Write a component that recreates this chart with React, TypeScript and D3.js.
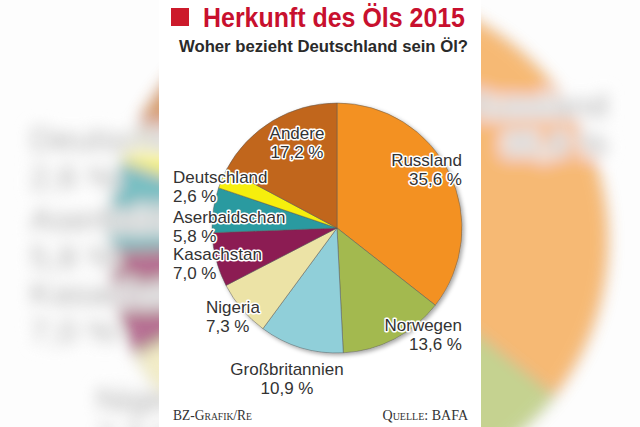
import React from "react";
import * as d3 from "d3";

// ---- data ----
const categories = [
  "Russland",
  "Norwegen",
  "Großbritannien",
  "Nigeria",
  "Kasachstan",
  "Aserbaidschan",
  "Deutschland",
  "Andere",
];
const shares = [35.6, 13.6, 10.9, 7.3, 7.0, 5.8, 2.6, 17.2];
const shareLabels = ["35,6 %", "13,6 %", "10,9 %", "7,3 %", "7,0 %", "5,8 %", "2,6 %", "17,2 %"];
const title = "Herkunft des Öls 2015";
const subtitle = "Woher bezieht Deutschland sein Öl?";
const credit = "BZ-Grafik/Re";
const source = "Quelle: BAFA";

// ---- styles / layout ----
const colors = [
  "#f39121",
  "#a3b94f",
  "#90cfd9",
  "#ece3a6",
  "#8c1b52",
  "#2b9aa0",
  "#f6ee0a",
  "#c1661b",
];
const W = 640;
const H = 427;
const CX = 337;
const CY = 228;
const R = 125;
const PANEL_X0 = 159;
const PANEL_X1 = 481;
const BG_SCALE = 2;
const BG_OX = 316;
const BG_OY = 215;
const labelLayout: { dx: number; dy: number; anchor: string }[] = [
  { dx: 125, dy: -62, anchor: "end" },
  { dx: 125, dy: 103, anchor: "end" },
  { dx: -50, dy: 147, anchor: "middle" },
  { dx: -131, dy: 85, anchor: "start" },
  { dx: -164, dy: 32, anchor: "start" },
  { dx: -164, dy: -5, anchor: "start" },
  { dx: -164, dy: -45, anchor: "start" },
  { dx: -40, dy: -89, anchor: "middle" },
];
const LINE = 19;
const labelFont = "'Liberation Sans', Arial, sans-serif";

// is a label still visible outside the white panel once enlarged in the backdrop?
function visibleInBackdrop(i: number) {
  const L = labelLayout[i];
  const x = BG_OX + BG_SCALE * (CX + L.dx - BG_OX);
  const y = BG_OY + BG_SCALE * (CY + L.dy - BG_OY);
  if (y > H + 10 || y < 0) return false;
  if (L.anchor === "start") return x < PANEL_X0;
  if (L.anchor === "end") return x > PANEL_X1;
  return false;
}

function PieChart({ backdrop }: { backdrop: boolean }) {
  const arcs = d3.pie<number>().sort(null).value((d) => d)(shares);
  const arc = d3.arc<d3.PieArcDatum<number>>().innerRadius(0).outerRadius(R);
  return (
    <g>
      <g transform={`translate(${CX},${CY})`} filter={backdrop ? undefined : "url(#pieShadow)"}>
        {arcs.map((a, i) => (
          <path
            key={categories[i]}
            d={arc(a) || ""}
            fill={colors[i]}
            stroke="#5a5a5a"
            strokeOpacity={0.7}
            strokeWidth={0.7}
          />
        ))}
      </g>
      {categories.map((c, i) => {
        if (backdrop && !visibleInBackdrop(i)) return null;
        const L = labelLayout[i];
        return (
          <text
            key={c}
            x={CX + L.dx}
            y={CY + L.dy}
            textAnchor={L.anchor as any}
            fontFamily={labelFont}
            fontSize={17}
            fill="#333"
            stroke="#fff"
            strokeWidth={3}
            strokeLinejoin="round"
            style={{ paintOrder: "stroke" }}
          >
            <tspan x={CX + L.dx}>{c}</tspan>
            <tspan x={CX + L.dx} dy={LINE}>
              {shareLabels[i]}
            </tspan>
          </text>
        );
      })}
    </g>
  );
}

export default function App() {
  const m = `matrix(${BG_SCALE},0,0,${BG_SCALE},${BG_OX * (1 - BG_SCALE)},${BG_OY * (1 - BG_SCALE)})`;
  return (
    <div style={{ position: "fixed", left: 0, top: 0 }}>
      <svg width={W} height={H} viewBox={`0 0 ${W} ${H}`} style={{ display: "block" }}>
        <defs>
          <filter id="bgBlur" x="-20%" y="-20%" width="140%" height="140%">
            <feGaussianBlur stdDeviation={3.6} />
          </filter>
          <filter id="pieShadow" x="-20%" y="-20%" width="140%" height="140%">
            <feDropShadow dx={2} dy={2} stdDeviation={2} floodColor="#000" floodOpacity={0.35} />
          </filter>
        </defs>
        <rect x={0} y={0} width={W} height={H} fill="#fdfdfd" />
        {/* blurred, enlarged backdrop */}
        <g opacity={0.62} aria-hidden="true">
          <g transform={m} filter="url(#bgBlur)">
            <PieChart backdrop={true} />
          </g>
        </g>
        {/* white panel */}
        <rect x={PANEL_X0} y={0} width={PANEL_X1 - PANEL_X0} height={H} fill="#fff" />
        <PieChart backdrop={false} />
        {/* title */}
        <rect x={171} y={8} width={18} height={18} fill="#cc1a2b" />
        <text
          x={203}
          y={27}
          fontFamily="'Liberation Sans Narrow', 'Liberation Sans', Arial, sans-serif"
          fontWeight="bold"
          fontSize={27}
          fill="#c8102e"
          textLength={262}
          lengthAdjust="spacingAndGlyphs"
        >
          {title}
        </text>
        <text
          x={179}
          y={52}
          fontFamily="'Liberation Sans', Arial, sans-serif"
          fontWeight="bold"
          fontSize={16}
          fill="#2a2a2a"
          textLength={289}
          lengthAdjust="spacingAndGlyphs"
        >
          {subtitle}
        </text>
        {/* footer */}
        <text
          x={173}
          y={420}
          fontFamily="'Liberation Serif', 'DejaVu Serif', serif"
          fontSize={14}
          fill="#333"
          textLength={79}
          lengthAdjust="spacingAndGlyphs"
          style={{ fontVariant: "small-caps" }}
        >
          {credit}
        </text>
        <text
          x={468}
          y={420}
          textAnchor="end"
          fontFamily="'Liberation Serif', 'DejaVu Serif', serif"
          fontSize={14}
          fill="#333"
          style={{ fontVariant: "small-caps" }}
        >
          {source}
        </text>
      </svg>
    </div>
  );
}
